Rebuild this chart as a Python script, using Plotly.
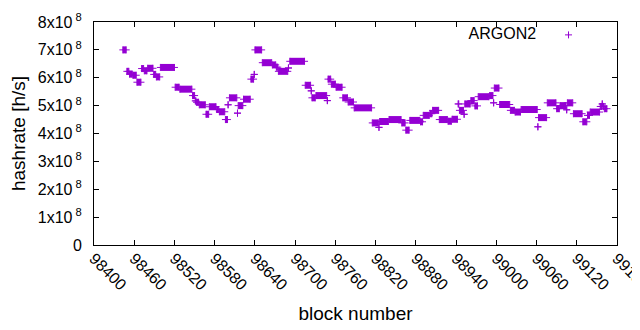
import plotly.graph_objects as go

# Runs of consecutive blocks with the same hashrate
run_start = [98443, 98449, 98453, 98458, 98464, 98471, 98475, 98480, 98489, 98493,
             98499, 98521, 98528, 98547, 98551, 98553, 98557, 98567, 98572, 98583,
             98587, 98596, 98600, 98602, 98614, 98615, 98623, 98634, 98639, 98640,
             98651, 98666, 98672, 98675, 98690, 98692, 98715, 98724, 98725, 98731,
             98748, 98749, 98754, 98761, 98771, 98779, 98788, 98815, 98825, 98826,
             98840, 98859, 98865, 98871, 98887, 98891, 98901, 98905, 98915, 98928,
             98934, 98943, 98945, 98952, 98953, 98962, 98968, 98973, 98990, 98996,
             98997, 99005, 99021, 99028, 99037, 99062, 99063, 99076, 99090, 99095,
             99105, 99106, 99115, 99129, 99136, 99140, 99155, 99158, 99159, 99161]
run_end = [98448, 98452, 98457, 98463, 98470, 98474, 98479, 98488, 98492, 98498,
           98520, 98527, 98546, 98550, 98552, 98556, 98566, 98571, 98582, 98586,
           98595, 98599, 98600, 98613, 98614, 98622, 98633, 98638, 98639, 98650,
           98665, 98671, 98674, 98689, 98690, 98714, 98723, 98724, 98730, 98747,
           98748, 98753, 98760, 98770, 98778, 98787, 98814, 98824, 98825, 98839,
           98858, 98864, 98870, 98886, 98890, 98900, 98904, 98914, 98927, 98933,
           98942, 98944, 98951, 98952, 98961, 98967, 98972, 98989, 98995, 98996,
           99004, 99020, 99027, 99036, 99061, 99062, 99075, 99089, 99094, 99104,
           99105, 99114, 99128, 99135, 99139, 99154, 99157, 99158, 99160, 99165]
run_hashrate = [7.00e8, 6.23e8, 6.13e8, 6.09e8, 5.84e8, 6.33e8, 6.25e8, 6.34e8, 6.12e8, 6.03e8,
                6.37e8, 5.66e8, 5.59e8, 5.36e8, 5.17e8, 5.12e8, 5.03e8, 4.69e8, 4.96e8, 4.86e8,
                4.78e8, 4.50e8, 5.03e8, 5.28e8, 4.73e8, 5.00e8, 5.23e8, 5.95e8, 6.12e8, 7.00e8,
                6.54e8, 6.46e8, 6.38e8, 6.23e8, 6.35e8, 6.59e8, 5.73e8, 5.53e8, 5.28e8, 5.36e8,
                5.18e8, 5.95e8, 5.77e8, 5.66e8, 5.28e8, 5.13e8, 4.92e8, 4.38e8, 4.22e8, 4.43e8,
                4.50e8, 4.38e8, 4.12e8, 4.47e8, 4.42e8, 4.65e8, 4.71e8, 4.83e8, 4.50e8, 4.44e8,
                4.51e8, 5.06e8, 4.83e8, 4.69e8, 5.06e8, 5.18e8, 4.99e8, 5.32e8, 5.36e8, 5.10e8,
                5.63e8, 5.04e8, 4.83e8, 4.77e8, 4.86e8, 4.24e8, 4.57e8, 5.10e8, 4.89e8, 5.00e8,
                4.85e8, 5.10e8, 4.71e8, 4.42e8, 4.65e8, 4.77e8, 4.97e8, 5.06e8, 4.97e8, 4.89e8]

x_tickvals = [98400, 98460, 98520, 98580, 98640, 98700, 98760, 98820, 98880, 98940,
              99000, 99060, 99120, 99180]
x_ticktext = ["98400", "98460", "98520", "98580", "98640", "98700", "98760", "98820",
              "98880", "98940", "99000", "99060", "99120", "99180"]
y_tickvals = [0, 1e8, 2e8, 3e8, 4e8, 5e8, 6e8, 7e8, 8e8]
y_ticktext = ["0", "1x10<sup> 8</sup>", "2x10<sup> 8</sup>", "3x10<sup> 8</sup>",
              "4x10<sup> 8</sup>", "5x10<sup> 8</sup>", "6x10<sup> 8</sup>",
              "7x10<sup> 8</sup>", "8x10<sup> 8</sup>"]
series_name = "ARGON2"

COLOR = "#9400D3"
FONT = "Liberation Sans, Arial, sans-serif"

# bodies of the runs (dense overlapping points look like filled bars)
lx, ly = [], []
for s, e, v in zip(run_start, run_end, run_hashrate):
    lx += [s, e, None]
    ly += [v, v, None]

px = run_start + run_end
py = run_hashrate + run_hashrate

fig = go.Figure()
fig.add_trace(go.Scatter(x=lx, y=ly, mode="lines", line=dict(color=COLOR, width=7),
                         showlegend=False, hoverinfo="skip"))
fig.add_trace(go.Scatter(x=px, y=py, mode="markers", name="",
                         marker=dict(symbol="cross-thin", size=5, color=COLOR,
                                     line=dict(color=COLOR, width=1)),
                         showlegend=True))

axis_common = dict(showline=True, linecolor="black", linewidth=1, mirror="allticks",
                   ticks="inside", ticklen=5, tickcolor="black", showgrid=False,
                   zeroline=False, automargin=False, ticklabeloverflow="allow",
                   tickfont=dict(family=FONT, size=16, color="black"))

# the page body has an 8px margin, so the figure is sized to fit the 640x330 window
fig.update_layout(
    width=632, height=322,
    margin=dict(l=86, r=23, t=10, b=85),
    paper_bgcolor="white", plot_bgcolor="white",
    font=dict(family=FONT, size=16, color="black"),
    xaxis=dict(range=[98400, 99180], tickvals=x_tickvals, ticktext=x_ticktext, tickangle=45,
               ticklabelstandoff=-3,
               title=dict(text="block number", standoff=14), **axis_common),
    yaxis=dict(range=[0, 8e8], tickvals=y_tickvals, ticktext=y_ticktext,
               ticklabelstandoff=8,
               title=dict(text="hashrate [h/s]", standoff=8), **axis_common),
    legend=dict(x=0.957, y=1.018, xanchor="right", yanchor="top", bgcolor="rgba(0,0,0,0)",
                title=dict(text=series_name + "\u00a0", side="left",
                           font=dict(family=FONT, size=16)),
                font=dict(family=FONT, size=16)),
)

fig.write_html("out.html")
